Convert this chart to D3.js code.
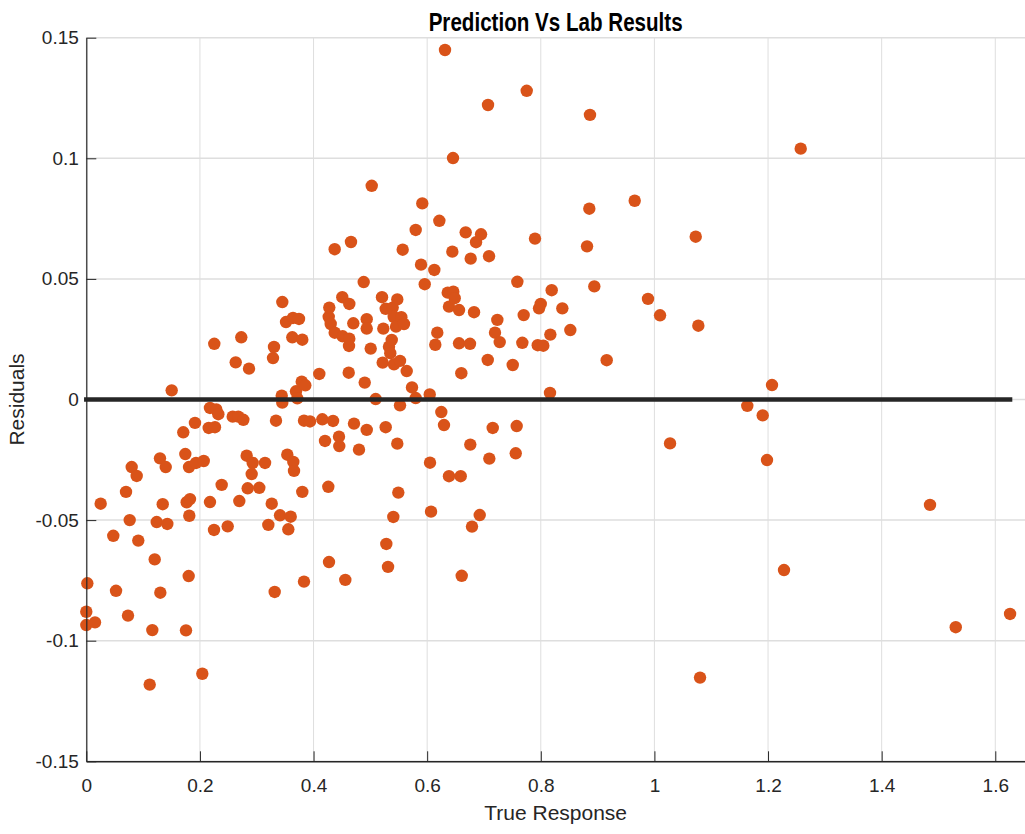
<!DOCTYPE html>
<html>
<head>
<meta charset="utf-8">
<script src="https://cdn.jsdelivr.net/npm/d3@7"></script>
<style>
  body { margin: 0; background: #ffffff; }
  svg { display: block; }
  text { font-family: "Liberation Sans", Arial, Helvetica, sans-serif; }
</style>
</head>
<body>
<svg id="chart" width="1025" height="834"></svg>
<script>
// ---------------- data ----------------
const trueResponse = [
  0.0018,0.0000,0.0000,0.0153,0.0253,0.0475,0.0523,0.0699,0.0734,0.0764,
  0.0799,0.0887,0.0915,0.1116,0.1162,0.1204,0.1239,0.1297,0.1303,0.1345,
  0.1398,0.1426,0.1503,0.1707,0.1743,0.1755,0.1802,0.1808,0.1767,0.1825,
  0.1813,0.1913,0.1931,0.2042,0.2067,0.2155,0.2177,0.2177,0.2248,0.2253,
  0.2265,0.2288,0.2324,0.2383,0.2489,0.2577,0.2630,0.2676,0.2693,0.2728,
  0.2764,0.2823,0.2841,0.2864,0.2911,0.2929,0.3045,0.3146,0.3204,0.3264,
  0.3286,0.3304,0.3316,0.3339,0.3410,0.3440,0.3450,0.3450,0.3515,0.3538,
  0.3556,0.3598,0.3626,0.3638,0.3644,0.3656,0.3691,0.3714,0.3744,0.3792,
  0.3802,0.3802,0.3832,0.3832,0.3855,0.3938,
  0.4101,0.4154,0.4202,0.4260,0.4272,0.4267,0.4277,0.4302,0.4343,0.4372,0.4372,
  0.4448,0.4453,0.4506,0.4513,0.4559,0.4619,0.4624,0.4629,0.4629,0.4659,
  0.4700,0.4712,0.4800,0.4883,0.4901,0.4936,0.4936,0.4936,0.5006,0.5024,
  0.5094,0.5205,0.5217,0.5228,0.5270,0.5270,0.5281,0.5311,0.5328,0.5351,
  0.5376,0.5393,0.5404,0.5411,0.5416,0.5452,0.5474,0.5474,0.5492,0.5522,
  0.5522,0.5545,0.5569,0.5592,0.5640,0.5733,0.5798,0.5798,0.5892,0.5914,
  0.5957,0.6045,0.6050,0.6068,0.6126,0.6143,0.6178,0.6214,0.6249,0.6296,
  0.6362,0.6384,0.6384,0.6443,0.6460,0.6485,0.6561,0.6561,0.6590,0.6601,
  0.6608,0.6678,0.6754,0.6759,0.6766,0.6789,0.6825,0.6860,0.6925,0.6948,
  0.7066,0.7089,0.7094,0.7154,0.7194,0.7235,0.7277,0.7506,0.7559,0.7576,
  0.7587,0.7675,0.7699,0.7898,0.7946,0.8044,0.7969,0.7999,
  0.6314,0.7071,0.6455,0.7752,0.8866,0.8854,0.9653,0.8814,1.0727,1.2575,
  0.8192,0.8942,0.9887,1.0099,1.0773,0.8379,0.8168,0.8520,0.9160,0.8162,1.0275,
  1.2070,1.1635,1.1906,1.1982,1.4851,1.2281,1.5304,1.6260,1.0803
];
const residuals = [
  -0.0762,-0.0880,-0.0935,-0.0924,-0.0432,-0.0565,-0.0793,-0.0383,-0.0896,-0.0500,
  -0.0280,-0.0317,-0.0585,-0.1182,-0.0956,-0.0663,-0.0508,-0.0244,-0.0801,-0.0434,
  -0.0280,-0.0516,0.0038,-0.0136,-0.0226,-0.0957,-0.0732,-0.0280,-0.0426,-0.0413,
  -0.0482,-0.0097,-0.0263,-0.1137,-0.0255,-0.0118,-0.0035,-0.0425,-0.0541,0.0231,
  -0.0115,-0.0041,-0.0061,-0.0354,-0.0526,-0.0071,0.0154,-0.0071,-0.0421,0.0258,
  -0.0084,-0.0233,-0.0368,0.0128,-0.0309,-0.0263,-0.0366,-0.0263,-0.0520,-0.0432,
  0.0172,0.0218,-0.0798,-0.0088,-0.0480,0.0016,-0.0013,0.0404,0.0321,-0.0229,
  -0.0538,-0.0486,0.0258,0.0338,-0.0259,-0.0296,0.0034,0.0005,0.0334,0.0074,
  0.0248,-0.0383,-0.0088,-0.0755,0.0059,-0.0091,
  0.0106,-0.0082,-0.0172,-0.0362,-0.0674,0.0343,0.0381,0.0313,-0.0089,0.0277,0.0623,
  -0.0154,-0.0193,0.0424,0.0262,-0.0748,0.0111,0.0222,0.0396,0.0252,0.0653,
  0.0316,-0.0100,-0.0208,0.0487,0.0070,0.0333,0.0294,-0.0126,0.0211,0.0886,
  0.0002,0.0424,0.0153,0.0294,0.0376,-0.0115,-0.0599,-0.0694,0.0219,0.0192,
  0.0247,0.0381,-0.0487,0.0343,0.0146,0.0302,0.0415,-0.0183,-0.0386,0.0160,
  -0.0024,0.0341,0.0621,0.0313,0.0118,0.0050,0.0006,0.0703,0.0559,0.0813,
  0.0478,0.0021,-0.0262,-0.0465,0.0537,0.0227,0.0277,0.0741,-0.0052,-0.0106,
  0.0443,0.0385,-0.0318,0.0613,0.0447,0.0420,0.0371,0.0233,-0.0318,0.0109,
  -0.0731,0.0693,0.0231,-0.0187,0.0584,-0.0527,0.0362,0.0652,-0.0479,0.0685,
  0.0164,0.0594,-0.0245,-0.0118,0.0277,0.0330,0.0238,0.0143,-0.0223,-0.0110,
  0.0488,0.0235,0.0350,0.0667,0.0225,0.0223,0.0378,0.0396,
  0.1449,0.1221,0.1001,0.1280,0.1180,0.0791,0.0824,0.0635,0.0675,0.1040,
  0.0453,0.0469,0.0417,0.0349,0.0306,0.0378,0.0269,0.0288,0.0163,0.0027,-0.0182,
  0.0060,-0.0026,-0.0066,-0.0251,-0.0437,-0.0707,-0.0944,-0.0889,-0.1153
];
const xTickValues = [0, 0.2, 0.4, 0.6, 0.8, 1, 1.2, 1.4, 1.6];
const xTickLabels = ["0", "0.2", "0.4", "0.6", "0.8", "1", "1.2", "1.4", "1.6"];
const yTickValues = [-0.15, -0.1, -0.05, 0, 0.05, 0.1, 0.15];
const yTickLabels = ["-0.15", "-0.1", "-0.05", "0", "0.05", "0.1", "0.15"];
const xDomain = [0, 1.6523];
const yDomain = [-0.15, 0.15];
const titleText = "Prediction Vs Lab Results";
const xLabelText = "True Response";
const yLabelText = "Residuals";

// ---------------- layout ----------------
const W = 1025, H = 834;
const plot = { left: 86.3, right: 1025, top: 37.7, bottom: 761.3 };
const axisColor = "#262626";
const markerColor = "#D95319";

const svg = d3.select("#chart");
const x = d3.scaleLinear().domain(xDomain).range([plot.left, plot.right]);
const y = d3.scaleLinear().domain(yDomain).range([plot.bottom, plot.top]);

// grid
const grid = svg.append("g");
grid.selectAll("line.vg").data(xTickValues).join("line")
  .attr("x1", d => x(d)).attr("x2", d => x(d))
  .attr("y1", plot.top).attr("y2", plot.bottom)
  .attr("stroke", "#dedede").attr("stroke-width", 1);
grid.selectAll("line.hg").data(yTickValues).join("line")
  .attr("x1", plot.left).attr("x2", plot.right)
  .attr("y1", d => y(d)).attr("y2", d => y(d))
  .attr("stroke", "#dedede").attr("stroke-width", 1.5);

// points
const pts = trueResponse.map((v, i) => ({ x: v, y: residuals[i] }));
svg.append("g").selectAll("circle").data(pts).join("circle")
  .attr("cx", d => x(d.x)).attr("cy", d => y(d.y)).attr("r", 6.2)
  .attr("fill", markerColor);

// zero reference line over the data range
const xr = d3.extent(trueResponse);
svg.append("line")
  .attr("x1", x(xr[0])).attr("x2", x(xr[1]))
  .attr("y1", y(0)).attr("y2", y(0))
  .attr("stroke", "#262626").attr("stroke-width", 4.5)
  .attr("stroke-linecap", "square");

// axes
const yAxis = d3.axisLeft(y).tickValues(yTickValues)
  .tickFormat((d, i) => yTickLabels[i]).tickSizeInner(-10).tickSizeOuter(0).tickPadding(7.5);
const gy = svg.append("g").attr("transform", `translate(${plot.left},0)`).call(yAxis);
gy.select(".domain").attr("stroke", axisColor).attr("stroke-width", 1.2);
gy.selectAll(".tick line").attr("stroke", axisColor).attr("stroke-width", 1);
gy.selectAll(".tick text").attr("font-size", 19).attr("fill", axisColor)
  .attr("font-family", '"Liberation Sans", Arial, sans-serif');

const xAxis = d3.axisBottom(x).tickValues(xTickValues)
  .tickFormat((d, i) => xTickLabels[i]).tickSizeInner(-10).tickSizeOuter(0).tickPadding(17);
const gx = svg.append("g").attr("transform", `translate(0,${plot.bottom})`).call(xAxis);
gx.select(".domain").attr("stroke", axisColor).attr("stroke-width", 1.5);
gx.selectAll(".tick line").attr("stroke", axisColor).attr("stroke-width", 1);
gx.selectAll(".tick text").attr("font-size", 19).attr("fill", axisColor)
  .attr("font-family", '"Liberation Sans", Arial, sans-serif');

// title
const title = svg.append("text")
  .attr("x", (plot.left + plot.right) / 2).attr("y", 31)
  .attr("text-anchor", "middle").attr("font-size", 25).attr("font-weight", "bold")
  .attr("fill", "#000").text(titleText);
title.attr("textLength", 254).attr("lengthAdjust", "spacingAndGlyphs");

// axis labels
svg.append("text")
  .attr("x", (plot.left + plot.right) / 2).attr("y", 820)
  .attr("text-anchor", "middle").attr("font-size", 21).attr("fill", axisColor)
  .text(xLabelText);
svg.append("text")
  .attr("transform", `translate(24,${(plot.top + plot.bottom) / 2}) rotate(-90)`)
  .attr("text-anchor", "middle").attr("font-size", 21).attr("fill", axisColor)
  .text(yLabelText);
</script>
</body>
</html>
